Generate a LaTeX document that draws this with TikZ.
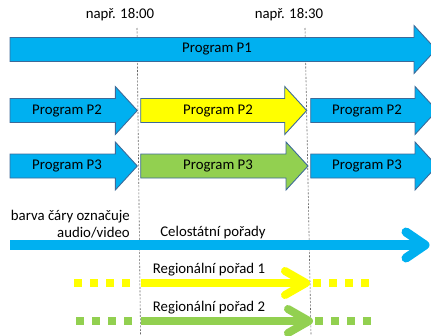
\documentclass[tikz,border=0pt]{standalone}
\usepackage{fontspec}
\setmainfont{Carlito}
\usetikzlibrary{arrows.meta}

\definecolor{progblue}{HTML}{00B0F0}
\definecolor{progedge}{HTML}{3D6A99}
\definecolor{progyellow}{HTML}{FFFF00}
\definecolor{proggreen}{HTML}{92D050}

% block arrow: name, fill, x start, x tip, y centre, label x, text
\newcommand{\progarrow}[7]{%
  \filldraw[progbox,fill=#2] (#3,#5-12) -- (#4-22,#5-12) -- (#4-22,#5-24)
    -- (#4,#5) -- (#4-22,#5+24) -- (#4-22,#5+12) -- (#3,#5+12) -- cycle;
  \node[lbl] (#1) at (#6,#5) {#7};
}

\begin{document}
\begin{tikzpicture}[x=1pt,y=-1pt,
    progbox/.style={draw=progedge,line width=0.9pt,line join=miter},
    lbl/.style={inner sep=0pt,font=\fontsize{14.8}{17.5}\selectfont},
    timeline/.style={draw=gray!80!black,line width=0.6pt,dash pattern=on 2pt off 1.5pt},
    solidline/.style={line width=#1,line cap=butt},
    dotline/.style={line width=8.5pt,dash pattern=on 7.5pt off 8.6pt},
    barb/.style={line width=#1,line cap=round,line join=round}]

  \useasboundingbox (0,0) rectangle (431,335);
  \clip (0,0) rectangle (431,335);

  % time marks
  \node[lbl] (t1) at (120,15) {např. 18:00};
  \node[lbl] (t2) at (289,15) {např. 18:30};
  \coordinate (t1top) at (137,28);
  \coordinate (t1bot) at (140.5,335);
  \coordinate (t2top) at (305,28);
  \coordinate (t2bot) at (311,335);
  \draw[timeline] (t1top) -- (t1bot);
  \draw[timeline] (t2top) -- (t2bot);

  % programmes
  \progarrow{p1}{progblue}{10}{436}{49.5}{217}{Program P1}

  \progarrow{p2a}{progblue}{10}{137.3}{110.5}{67}{Program P2}
  \progarrow{p2b}{progyellow}{140.7}{306.7}{110.5}{218}{Program P2}
  \progarrow{p2c}{progblue}{310.7}{437}{110.5}{367}{Program P2}

  \progarrow{p3a}{progblue}{10}{137.3}{166}{67}{Program P3}
  \progarrow{p3b}{proggreen}{140.7}{308}{166}{218}{Program P3}
  \progarrow{p3c}{progblue}{310.7}{437}{166}{367}{Program P3}

  % audio/video lines
  \node[lbl,align=right,anchor=east] (legend) at (130,224)
    {barva čáry označuje\\audio/video};
  \node[lbl] (nat) at (213,233) {Celostátní pořady};
  \draw[progblue,solidline=10pt] (10,245) -- (425,245);
  \draw[progblue,barb=9pt] (406,232) -- (425,245) -- (406,258);

  \node[lbl] (reg1) at (209,270) {Regionální pořad 1};
  \draw[progyellow,dotline] (74,283) -- (131,283);
  \draw[progyellow,solidline=8.5pt] (140.7,283) -- (306,283);
  \draw[progyellow,barb=8pt] (285,271) -- (306,283) -- (285,295);
  \draw[progyellow,dotline] (313,283) -- (370,283);

  \node[lbl] (reg2) at (209,308) {Regionální pořad 2};
  \draw[proggreen,dotline] (76,321) -- (133,321);
  \draw[proggreen,solidline=8.5pt] (141,321) -- (309,321);
  \draw[proggreen,barb=8pt] (288,309) -- (309,321) -- (288,333);
  \draw[proggreen,dotline] (315,321) -- (372,321);

\end{tikzpicture}
\end{document}
